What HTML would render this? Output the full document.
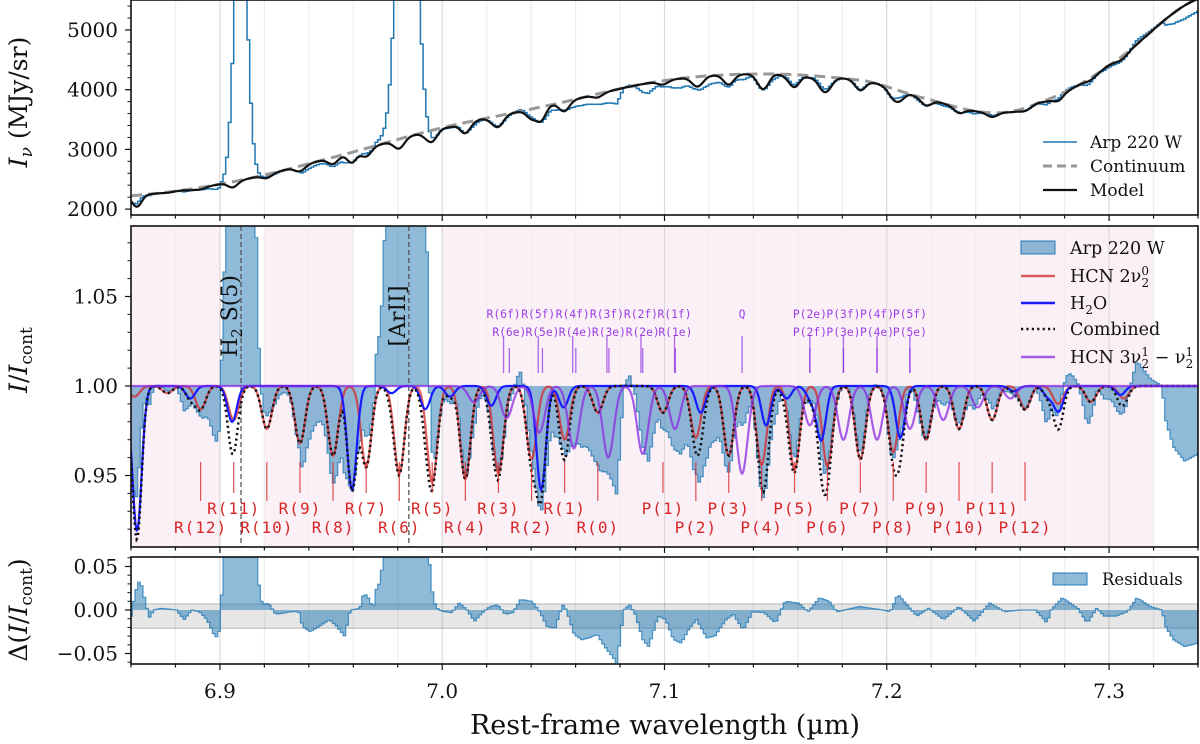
<!DOCTYPE html>
<html><head><meta charset="utf-8"><style>
html,body{margin:0;padding:0;background:#fff;}
svg{display:block;font-family:"DejaVu Serif","Liberation Serif",serif;}
</style></head><body>
<svg id="chart" width="1200" height="744" viewBox="0 0 1200 744" xmlns="http://www.w3.org/2000/svg">
<defs>
<clipPath id="cTop"><rect x="131" y="0" width="1067" height="215"/></clipPath>
<clipPath id="cMid"><rect x="131" y="226" width="1067" height="321"/></clipPath>
<clipPath id="cRes"><rect x="131" y="557" width="1067" height="107"/></clipPath>
</defs>
<g id="gTop"></g>
<g id="gMid"></g>
<g id="gRes"></g>
<g id="gAx"></g>
</svg>
<script>
// ---------- data ----------
const hcnWl=[6.8615,6.8764,6.8913,6.9062,6.9211,6.9360,6.9509,6.9658,6.9807,6.9955,7.0104,7.0253,7.0402,7.0551,7.0700,7.0993,7.1141,7.1289,7.1437,7.1585,7.1733,7.1881,7.2029,7.2177,7.2325,7.2474,7.2622,7.2770,7.2918,7.3066];
const hcnDepth=[0.994,0.996,0.987,0.981,0.976,0.968,0.961,0.955,0.951,0.946,0.948,0.951,0.959,0.970,0.985,0.985,0.971,0.961,0.956,0.953,0.955,0.959,0.963,0.970,0.976,0.981,0.987,0.990,0.991,0.993];
const hcnNames=['','','R(12)','R(11)','R(10)','R(9)','R(8)','R(7)','R(6)','R(5)','R(4)','R(3)','R(2)','R(1)','R(0)','P(1)','P(2)','P(3)','P(4)','P(5)','P(6)','P(7)','P(8)','P(9)','P(10)','P(11)','P(12)','','',''];
const h2oWl=[6.8627,6.8867,6.9055,6.9594,6.9772,6.9924,7.0035,7.0221,7.0445,7.0546,7.1163,7.1457,7.1550,7.1658,7.1705,7.2061,7.2572,7.2726,7.2773,7.3051];
const h2oDepth=[0.919,0.993,0.980,0.942,0.996,0.987,0.994,0.989,0.942,0.988,0.985,0.978,0.993,0.993,0.970,0.971,0.997,0.994,0.986,0.995];
const hotWl=[7.0143,7.0290,7.0437,7.0592,7.0747,7.0902,7.1047,7.1349,7.1654,7.1805,7.1956,7.2104,7.2254,7.2409,7.2556];
const hotDepth=[0.991,0.982,0.974,0.965,0.960,0.962,0.976,0.951,0.978,0.970,0.970,0.976,0.981,0.988,0.993];
const hotTopNames=['R(6f)','R(5f)','R(4f)','R(3f)','R(2f)','R(1f)','Q','P(2e)','P(3f)','P(4f)','P(5f)'];
const hotTopWl=[7.0276,7.0432,7.0587,7.0741,7.0894,7.1045,7.1349,7.1654,7.1805,7.1956,7.2104];
const hotBotNames=['R(6e)','R(5e)','R(4e)','R(3e)','R(2e)','R(1e)','P(2f)','P(3e)','P(4e)','P(5e)'];
const hotBotWl=[7.0302,7.0451,7.0601,7.0750,7.0902,7.1049,7.1654,7.1805,7.1956,7.2104];
const emWl=[6.9093,6.9840];
const emAmp=[2.0,2.5];
const emSigma=[0.0028,0.0037];
const emNames=['H₂ S(5)','[ArII]'];
const emMarkWl=[6.9095,6.9850];
const contWl=[6.860,6.906,6.952,6.999,7.045,7.098,7.144,7.190,7.214,7.246,7.268,7.299,7.340];
const contVal=[2224,2459,2878,3353,3716,4140,4263,4151,3883,3615,3777,4386,5520];
const maskStart=[6.8600,6.9198,6.9996];
const maskEnd=[6.9004,6.9603,7.3198];
const resWl=[6.860,6.8615,6.8633,6.865,6.8667,6.8685,6.8702,6.8736,6.8805,6.8839,6.8873,6.8908,6.8942,6.8977,6.8994,6.9011,6.905,6.913,6.9183,6.9218,6.9252,6.9321,6.9355,6.9372,6.9407,6.9458,6.9493,6.9527,6.9561,6.9587,6.963,6.9648,6.9673,6.969,6.9699,6.9733,6.978,6.990,6.9974,7.0009,7.0043,7.0077,7.0112,7.0146,7.0181,7.0215,7.025,7.0284,7.0318,7.0353,7.0404,7.0439,7.0473,7.0507,7.0542,7.0559,7.0594,7.0628,7.0662,7.0697,7.0731,7.0765,7.0786,7.0817,7.0843,7.0869,7.0903,7.0929,7.0972,7.1006,7.1041,7.1075,7.111,7.1144,7.1191,7.1226,7.1277,7.1311,7.1354,7.1397,7.1449,7.15,7.1543,7.1603,7.1646,7.1698,7.1741,7.1775,7.1878,7.1981,7.2016,7.205,7.2084,7.2136,7.2188,7.2256,7.2325,7.2394,7.2463,7.2532,7.2601,7.267,7.2721,7.2739,7.279,7.2859,7.2902,7.2945,7.2979,7.3031,7.3083,7.3126,7.3186,7.3238,7.3255,7.329,7.3341,7.340];
const resVal=[-0.007,0.014,0.033,0.027,0.006,-0.009,0.000,0.002,0.000,-0.011,0.000,-0.002,-0.011,-0.030,-0.034,0.004,0.010,0.010,0.003,0.008,-0.005,-0.002,-0.002,-0.019,-0.025,-0.017,-0.011,-0.019,-0.030,0.000,0.002,0.020,0.012,0.000,0.021,0.020,0.010,0.010,0.000,-0.002,-0.003,0.008,0.000,-0.013,-0.003,0.004,0.006,-0.005,-0.003,0.012,0.010,-0.002,-0.019,-0.021,0.006,0.000,-0.028,-0.034,-0.032,-0.028,-0.042,-0.053,-0.061,0.000,0.006,-0.005,-0.034,-0.042,-0.007,-0.011,-0.034,-0.038,-0.022,-0.011,-0.032,-0.030,-0.011,-0.005,-0.023,-0.002,-0.003,-0.015,0.010,0.008,-0.002,0.014,0.010,-0.002,0.004,0.000,-0.002,0.018,0.008,-0.007,0.002,-0.011,0.004,-0.013,0.008,-0.002,0.000,0.000,-0.015,0.000,0.014,0.002,-0.015,0.002,-0.007,-0.007,-0.002,0.014,0.004,0.000,-0.019,-0.034,-0.042,-0.038];
const bandLow=-0.021, bandHigh=0.007;
const topTicks=[2000,3000,4000,5000];
const midTicks=[0.95,1.00,1.05];
const midTickLabels=['0.95','1.00','1.05'];
const resTicks=[-0.05,0,0.05];
const resTickLabels=['−0.05','0.00','0.05'];
const xTicks=[6.9,7.0,7.1,7.2,7.3];
const xTickLabels=['6.9','7.0','7.1','7.2','7.3'];

// ---------- scales ----------
const wlMin=6.86, wlMax=7.34;
function X(l){return 131+(l-wlMin)/(wlMax-wlMin)*1067;}
function Yt(v){return 215-(v-1901)/(5502-1901)*215;}
function Ym(v){return 386-(v-1)*1790;}
function Yr(v){return 610-v*870;}
const NS='http://www.w3.org/2000/svg';
function mk(tag,attrs,parent){const e=document.createElementNS(NS,tag);for(const k in attrs)e.setAttribute(k,attrs[k]);parent.appendChild(e);return e;}

function lineModel(wls,deps,sig,l){let p=1;for(let i=0;i<wls.length;i++){const d=l-wls[i];p*=1-(1-deps[i])*Math.exp(-d*d/(2*sig*sig));}return p;}
function hcn(l){return lineModel(hcnWl,hcnDepth,0.0023,l);}
function h2o(l){return lineModel(h2oWl,h2oDepth,0.0021,l);}
function hot(l){return lineModel(hotWl,hotDepth,0.0025,l);}
function comb(l){return hcn(l)*h2o(l);}
function emis(l){let s=0;for(let i=0;i<emWl.length;i++){const d=l-emWl[i];s+=emAmp[i]*Math.exp(-d*d/(2*emSigma[i]*emSigma[i]));}return s;}
function resid(l){if(l<=resWl[0])return resVal[0];for(let i=1;i<resWl.length;i++){if(l<=resWl[i]){const t=(l-resWl[i-1])/(resWl[i]-resWl[i-1]);return resVal[i-1]+t*(resVal[i]-resVal[i-1]);}}return resVal[resVal.length-1];}
function cont(l){const n=contWl.length;let i=0;while(i<n-2&&l>contWl[i+1])i++;
  const p0=contVal[Math.max(i-1,0)],p1=contVal[i],p2=contVal[i+1],p3=contVal[Math.min(i+2,n-1)];
  const t=(l-contWl[i])/(contWl[i+1]-contWl[i]);const t2=t*t,t3=t2*t;
  return 0.5*((2*p1)+(-p0+p2)*t+(2*p0-5*p1+4*p2-p3)*t2+(-p0+3*p1-3*p2+p3)*t3);}
function obsRel(l){return comb(l)+resid(l)+emis(l);}
function resTotal(l){return resid(l)+emis(l);}

const fine=[];for(let l=wlMin;l<=wlMax+1e-9;l+=0.0005)fine.push(l);
const stepW=0.0012;const coarse=[];for(let l=wlMin;l<=wlMax+1e-9;l+=stepW)coarse.push(l);
function linePath(f,Y){return fine.map((l,i)=>(i?'L':'M')+X(l).toFixed(1)+','+Y(f(l)).toFixed(1)).join('');}
function stepPath(f,Y){let d='';coarse.forEach((l,i)=>{const y=Y(f(l)).toFixed(1);const x0=X(Math.max(wlMin,l-stepW/2)).toFixed(1),x1=X(Math.min(wlMax,l+stepW/2)).toFixed(1);d+=(i?'L':'M')+x0+','+y+'L'+x1+','+y;});return d;}
function grid(g,y0,y1){for(let k=0;k<=24;k++){const l=6.86+k*0.02;const major=Math.abs((l*10)-Math.round(l*10))<1e-6;
  const ln=mk('line',{x1:X(l),x2:X(l),y1:y0,y2:y1,stroke:major?'#d9d9d9':'#eeeeee','stroke-width':1.2},g);
  }}

// ---------- top panel ----------
const gT=document.getElementById('gTop');
const tc=mk('g',{'clip-path':'url(#cTop)'},gT);
grid(tc,0,215);
const obsT=mk('path',{d:stepPath(l=>cont(l)*obsRel(l),Yt),fill:'none',stroke:'#1f77b4','stroke-width':1.5},tc);

const conT=mk('path',{d:linePath(cont,Yt),fill:'none',stroke:'#999','stroke-width':3,'stroke-dasharray':'11,6'},tc);

const modT=mk('path',{d:linePath(l=>cont(l)*comb(l),Yt),fill:'none',stroke:'#111','stroke-width':2.2},tc);

[['Arp 220 W','#1f77b4',1.5,''],['Continuum','#999',3,'9,5'],['Model','#111',2.2,'']].forEach((e,i)=>{
  const y=142+i*24;const g=mk('g',{},gT);
  mk('line',{x1:1043,x2:1077,y1:y,y2:y,stroke:e[1],'stroke-width':e[2],'stroke-dasharray':e[3]},g);
  const t=mk('text',{x:1090,y:y+6,'font-size':17,fill:'#111'},g);t.textContent=e[0];});

// ---------- middle panel ----------
const gM=document.getElementById('gMid');
const mc=mk('g',{'clip-path':'url(#cMid)'},gM);
maskStart.forEach((s,i)=>{const r=mk('rect',{x:X(s),y:226,width:X(maskEnd[i])-X(s),height:321,fill:'#fcf0f7'},mc);
  });
grid(mc,226,547);
const od=stepPath(obsRel,Ym);
const obsF=mk('path',{d:od+'L'+X(wlMax)+','+Ym(1)+'L'+X(wlMin)+','+Ym(1)+'Z',fill:'rgba(31,119,180,0.5)',stroke:'none'},mc);

const obsL=mk('path',{d:od,fill:'none',stroke:'rgba(31,119,180,0.75)','stroke-width':1.2},mc);

emMarkWl.forEach((l,i)=>{const d=mk('line',{x1:X(l),x2:X(l),y1:226,y2:547,stroke:'#555','stroke-width':1.3,'stroke-dasharray':'5,3'},mc);
  });
const hl=mk('path',{d:linePath(hcn,Ym),fill:'none',stroke:'rgba(214,39,40,0.75)','stroke-width':2.2},mc);

const wl_=mk('path',{d:linePath(h2o,Ym),fill:'none',stroke:'#1a1aff','stroke-width':2.2},mc);

const cl=mk('path',{d:linePath(comb,Ym),fill:'none',stroke:'#111','stroke-width':2.5,'stroke-dasharray':'2.2,3.2'},mc);

const pl=mk('path',{d:linePath(hot,Ym),fill:'none',stroke:'rgba(138,43,226,0.75)','stroke-width':2.2},mc);

hcnNames.forEach((n,i)=>{if(!n)return;const num=parseInt(n.slice(2));const upper=(num%2===1);
  const x=X(hcnWl[i]);const tk=mk('line',{x1:x,x2:x,y1:462,y2:upper?493:501,stroke:'rgba(214,39,40,0.8)','stroke-width':1.2},gM);
  
  const t=mk('text',{x:x,y:upper?514:533,'text-anchor':'middle','font-size':16,'letter-spacing':1,fill:'#d62728','font-family':'"DejaVu Sans Mono","Liberation Mono",monospace'},gM);
  t.textContent=n;});
hotTopNames.forEach((n,i)=>{const x=X(hotTopWl[i]);
  const tk=mk('line',{x1:x,x2:x,y1:336,y2:373,stroke:'rgba(138,43,226,0.7)','stroke-width':1.3},gM);
  
  const t=mk('text',{x:x,y:318,'text-anchor':'middle','font-size':11.3,fill:'#9b3de6','font-family':'"DejaVu Sans Mono","Liberation Mono",monospace'},gM);
  t.textContent=n;});
hotBotNames.forEach((n,i)=>{const x=X(hotBotWl[i]);
  const tk=mk('line',{x1:x,x2:x,y1:348,y2:373,stroke:'rgba(138,43,226,0.7)','stroke-width':1.3},gM);
  
  const t=mk('text',{x:x,y:336,'text-anchor':'middle','font-size':11.3,fill:'#9b3de6','font-family':'"DejaVu Sans Mono","Liberation Mono",monospace'},gM);
  t.textContent=n;});
emNames.forEach((n,i)=>{const x=X(emMarkWl[i])-4,y=316;
  const t=mk('text',{x:x,y:y,transform:'rotate(-90 '+x+' '+y+')','text-anchor':'middle','font-size':22,fill:'#111'},gM);
  
  if(i===0){t.innerHTML='H<tspan font-size="15" dy="5">2</tspan><tspan dy="-5"> S(5)</tspan>';}else t.textContent=n;});
const legM=[['patch','rgba(31,119,180,0.5)','Arp 220 W'],['line','rgba(214,39,40,0.75)','HCN'],['line','#1a1aff','H2O'],['dot','#111','Combined'],['line','rgba(138,43,226,0.75)','HCN']];
legM.forEach((e,i)=>{const y=[248,276,303,329,357][i];const g=mk('g',{},gM);
  
  if(e[0]==='patch')mk('rect',{x:1021,y:y-7,width:34,height:13,fill:e[1],stroke:'rgba(31,119,180,0.8)','stroke-width':1.2},g);
  else mk('line',{x1:1021,x2:1055,y1:y,y2:y,stroke:e[1],'stroke-width':2.4,'stroke-dasharray':e[0]==='dot'?'2.2,3.2':''},g);
  const t=mk('text',{x:1070,y:y+6,'font-size':17.5,fill:'#111'},g);
  if(i===1)t.innerHTML='HCN 2ν<tspan font-size="12" dy="-7">0</tspan><tspan font-size="12" dx="-7.5" dy="12">2</tspan>';
  else if(i===2)t.innerHTML='H<tspan font-size="12" dy="5">2</tspan><tspan dy="-5">O</tspan>';
  else if(i===4)t.innerHTML='HCN 3ν<tspan font-size="12" dy="-7">1</tspan><tspan font-size="12" dx="-7.5" dy="12">2</tspan><tspan dy="-5"> − ν</tspan><tspan font-size="12" dy="-7">1</tspan><tspan font-size="12" dx="-7.5" dy="12">2</tspan>';
  else t.textContent=e[2];});

// ---------- residual panel ----------
const gR=document.getElementById('gRes');
const rc=mk('g',{'clip-path':'url(#cRes)'},gR);
grid(rc,557,664);
const band=mk('rect',{x:131,y:Yr(bandHigh),width:1067,height:Yr(bandLow)-Yr(bandHigh),fill:'rgba(128,128,128,0.2)',stroke:'rgba(128,128,128,0.35)','stroke-width':1.5},rc);

const rd=stepPath(resTotal,Yr);
const rf=mk('path',{d:rd+'L'+X(wlMax)+','+Yr(0)+'L'+X(wlMin)+','+Yr(0)+'Z',fill:'rgba(31,119,180,0.5)',stroke:'none'},rc);

const rl=mk('path',{d:rd,fill:'none',stroke:'rgba(31,119,180,0.75)','stroke-width':1.2},rc);

const rlg=mk('g',{},gR);
mk('rect',{x:1053,y:573,width:34,height:12,fill:'rgba(31,119,180,0.5)',stroke:'rgba(31,119,180,0.8)','stroke-width':1.2},rlg);
const rlt=mk('text',{x:1102,y:585,'font-size':16.5,fill:'#111'},rlg);rlt.textContent='Residuals';

// ---------- axes ----------
const gA=document.getElementById('gAx');
const panels=[[0,215],[226,547],[557,664]];
panels.forEach(p=>{const r=mk('rect',{x:131,y:p[0],width:1067,height:p[1]-p[0],fill:'none',stroke:'#111','stroke-width':1.6},gA);
  
  for(let k=0;k<=24;k++){const l=6.86+k*0.02;const major=Math.abs((l*10)-Math.round(l*10))<1e-6;
    mk('line',{x1:X(l),x2:X(l),y1:p[1],y2:p[1]+(major?6:3.5),stroke:'#111','stroke-width':1.2},gA);}});
function yAxis(ticks,labels,Y,minorFrom,minorTo,minorStep){
  for(let v=minorFrom;v<=minorTo+1e-9;v+=minorStep){mk('line',{x1:127.5,x2:131,y1:Y(v),y2:Y(v),stroke:'#111','stroke-width':1},gA);}
  ticks.forEach((v,i)=>{mk('line',{x1:125,x2:131,y1:Y(v),y2:Y(v),stroke:'#111','stroke-width':1.2},gA);
    const t=mk('text',{x:118,y:Y(v)+7,'text-anchor':'end','font-size':20,fill:'#111'},gA);
    t.textContent=labels[i];});}
yAxis(topTicks,topTicks.map(String),Yt,2000,5400,200);
yAxis(midTicks,midTickLabels,Ym,0.92,1.08,0.01);
yAxis(resTicks,resTickLabels,Yr,-0.06,0.06,0.01);
xTicks.forEach((l,i)=>{const t=mk('text',{x:X(l),y:698,'text-anchor':'middle','font-size':20,fill:'#111'},gA);
  t.textContent=xTickLabels[i];});
const xt=mk('text',{x:665,y:734,'text-anchor':'middle','font-size':27,fill:'#111'},gA);
xt.textContent='Rest-frame wavelength (µm)';
function ylab(html,y,name){const t=mk('text',{x:27,y:y,transform:'rotate(-90 27 '+y+')','text-anchor':'middle','font-size':25,fill:'#111'},gA);
  t.innerHTML=html;}
ylab('<tspan font-style="italic">I</tspan><tspan font-style="italic" font-size="17" dy="5">ν</tspan><tspan dy="-5"> (MJy/sr)</tspan>',102,'top-y-axis-title');
ylab('<tspan font-style="italic">I</tspan>/<tspan font-style="italic">I</tspan><tspan font-size="17" dy="5">cont</tspan>',360,'middle-y-axis-title');
ylab('Δ(<tspan font-style="italic">I</tspan>/<tspan font-style="italic">I</tspan><tspan font-size="17" dy="5">cont</tspan><tspan dy="-5">)</tspan>',610,'residual-y-axis-title');
</script>
</body></html>
